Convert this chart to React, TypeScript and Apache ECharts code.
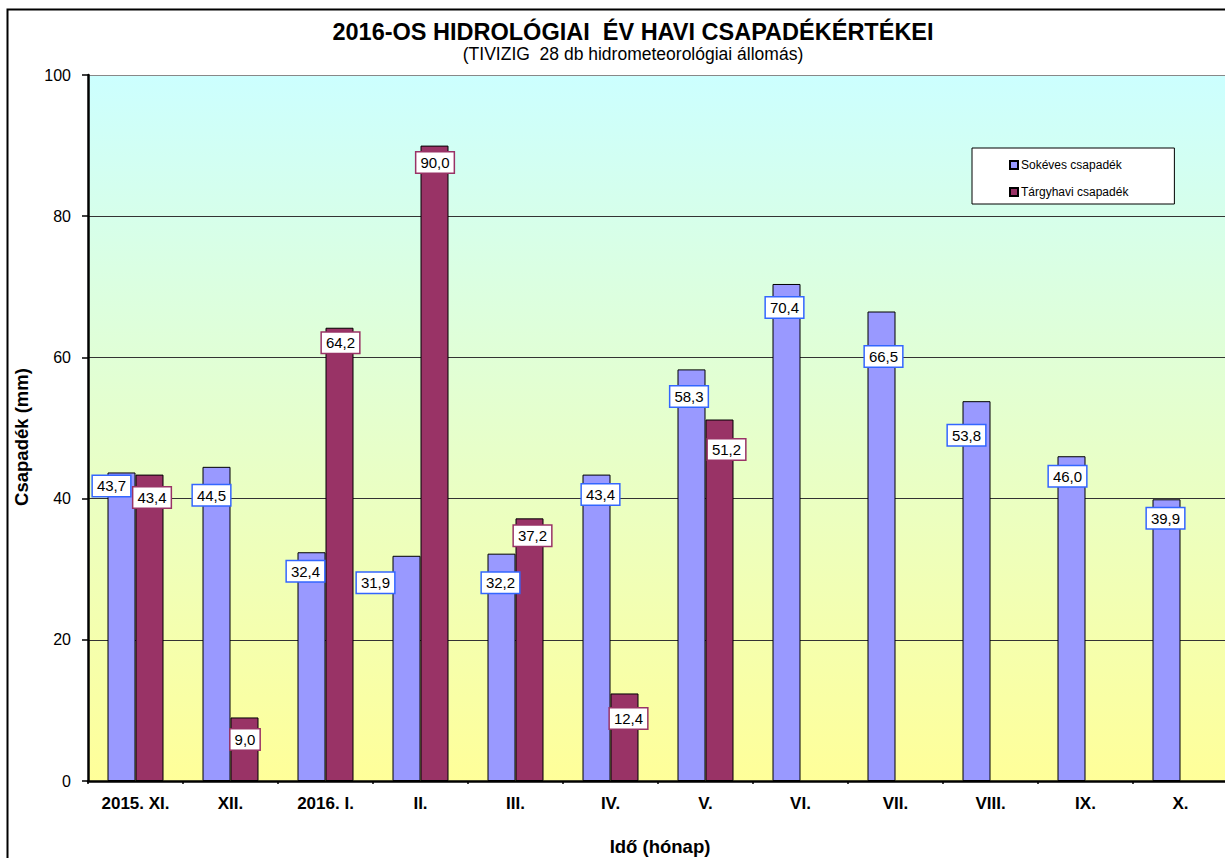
import React, { useEffect, useRef } from "react";
import * as echarts from "echarts";

const months = ["2015. XI.", "XII.", "2016. I.", "II.", "III.", "IV.", "V.", "VI.", "VII.", "VIII.", "IX.", "X."];
const longTerm = [43.7, 44.5, 32.4, 31.9, 32.2, 43.4, 58.3, 70.4, 66.5, 53.8, 46.0, 39.9];
const actual: (number | null)[] = [43.4, 9.0, 64.2, 90.0, 37.2, 12.4, 51.2, null, null, null, null, null];
const yTicks = [0, 20, 40, 60, 80, 100];
// label offsets (dx, dy from bar top center), as placed in the original
const longTermLabelOffsets = [[-10, 13.5], [-5, 28.5], [-6, 19], [-31, 27], [-1, 29], [4, 20], [-2.5, 27], [-2, 23.5], [2, 45], [-10, 34], [-4, 20], [-1, 19]];
const actualLabelOffsets = [[2.5, 23], [0.5, 22], [1, 15], [0.5, 17], [3, 17.5], [4, 25], [7, 30]];

const FONT = "'Liberation Sans', Arial, sans-serif";
const fmt = (v: number) => v.toFixed(1).replace(".", ",");

export default function App() {
  const ref = useRef<HTMLDivElement>(null);
  useEffect(() => {
    if (!ref.current) return;
    const chart = echarts.init(ref.current, null, { renderer: "svg" });
    const labelBase = (border: string) => ({
      show: true,
      position: ["50%", 0],
      align: "center",
      verticalAlign: "middle",
      fontFamily: FONT,
      fontSize: 15,
      color: "#000",
      backgroundColor: "#fff",
      borderColor: border,
      borderWidth: 1.5,
      padding: [3, 4, 2, 4],
      formatter: (p: any) => fmt(p.value),
    });
    chart.setOption({
      animation: false,
      title: {
        text: "2016-OS HIDROLÓGIAI  ÉV HAVI CSAPADÉKÉRTÉKEI",
        subtext: "(TIVIZIG  28 db hidrometeorológiai állomás)",
        left: 628,
        textAlign: "center",
        top: 15,
        itemGap: 1,
        textStyle: { fontFamily: FONT, fontSize: 23.5, fontWeight: "bold", color: "#000" },
        subtextStyle: { fontFamily: FONT, fontSize: 17.5, color: "#000" },
      },
      legend: {
        orient: "vertical",
        left: 972,
        top: 148,
        backgroundColor: "#fff",
        borderColor: "#000",
        borderWidth: 1,
        borderRadius: 0,
        padding: [11, 46, 6, 37],
        itemGap: 15,
        itemWidth: 8,
        itemHeight: 8,
        icon: "rect",
        textStyle: { fontFamily: FONT, fontSize: 12, color: "#000", padding: [0, 0, 0, -2] },
      },
      grid: {
        left: 88,
        top: 75,
        right: 12,
        bottom: 77,
        show: true,
        borderWidth: 0,
        backgroundColor: new echarts.graphic.LinearGradient(0, 0, 0, 1, [
          { offset: 0, color: "#CCFFFF" },
          { offset: 1, color: "#FFFF99" },
        ]),
      },
      xAxis: {
        type: "category",
        data: months,
        axisLine: { lineStyle: { color: "#000", width: 2.5 } },
        axisTick: { show: true, length: 3, lineStyle: { color: "#000", width: 1.5 } },
        axisLabel: { fontFamily: FONT, fontSize: 17, fontWeight: "bold", color: "#000", margin: 14 },
      },
      yAxis: {
        type: "value",
        min: 0,
        max: 100,
        interval: 20,
        axisLine: { show: true, lineStyle: { color: "#000", width: 2.5 } },
        axisTick: { show: true, length: 6, lineStyle: { color: "#000", width: 1.5 } },
        axisLabel: { fontFamily: FONT, fontSize: 16, color: "#000", margin: 17, formatter: (v: number) => (yTicks.includes(v) ? String(v) : "") },
        splitLine: { show: true, lineStyle: { color: ["#000", "#333", "#333", "#333", "#333", "#888"], width: 1 } },
      },
      graphic: [
        {
          type: "rect",
          shape: { x: 7.5, y: 9.5, width: 1400, height: 1000 },
          style: { fill: "none", stroke: "#000", lineWidth: 2 },
          silent: true,
        },
        {
          type: "text",
          x: 21,
          y: 437,
          rotation: Math.PI / 2,
          style: { text: "Csapadék (mm)", fontFamily: FONT, fontSize: 18.5, fontWeight: "bold", fill: "#000", textAlign: "center", textVerticalAlign: "middle" },
        },
        {
          type: "text",
          x: 660,
          y: 846,
          style: { text: "Idő (hónap)", fontFamily: FONT, fontSize: 18.5, fontWeight: "bold", fill: "#000", textAlign: "center", textVerticalAlign: "middle" },
        },
      ],
      series: [
        {
          name: "Sokéves csapadék",
          type: "bar",
          barWidth: 28,
          barGap: "0%",
          itemStyle: { color: "#9999FF", borderColor: "#000", borderWidth: 1 },
          data: longTerm.map((v, i) => ({
            value: v,
            label: { ...labelBase("#3366FF"), offset: longTermLabelOffsets[i] },
          })),
          z: 3,
        },
        {
          name: "Tárgyhavi csapadék",
          type: "bar",
          barWidth: 28,
          barGap: "0%",
          itemStyle: { color: "#993366", borderColor: "#000", borderWidth: 1 },
          data: actual.map((v, i) =>
            v == null
              ? null
              : { value: v, label: { ...labelBase("#993366"), offset: actualLabelOffsets[i] } }
          ),
          z: 3,
        },
      ],
    });
    return () => chart.dispose();
  }, []);
  return (
    <div style={{ position: "fixed", left: 0, top: 0, width: 1225, height: 858, overflow: "hidden", background: "#fff" }}>
      <div ref={ref} style={{ width: 1240, height: 858 }} />
    </div>
  );
}
